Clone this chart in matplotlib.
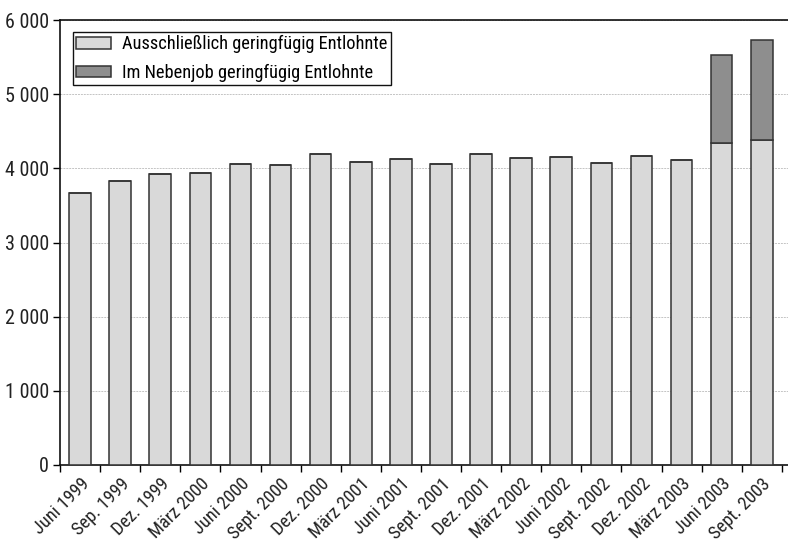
import matplotlib

matplotlib.use("Agg")
import matplotlib.pyplot as plt
import numpy as np

categories = [
    "Juni 1999", "Sep. 1999", "Dez. 1999", "März 2000", "Juni 2000", "Sept. 2000",
    "Dez. 2000", "März 2001", "Juni 2001", "Sept. 2001", "Dez. 2001", "März 2002",
    "Juni 2002", "Sept. 2002", "Dez. 2002", "März 2003", "Juni 2003", "Sept. 2003",
]
ausschliesslich = [
    3670, 3832, 3926, 3943, 4055, 4050, 4199, 4082, 4122,
    4065, 4195, 4136, 4159, 4074, 4172, 4114, 4337, 4377,
]
nebenjob = [0, 0, 0, 0, 0, 0, 0, 0, 0, 0, 0, 0, 0, 0, 0, 0, 1185, 1347]
yticks = [0, 1000, 2000, 3000, 4000, 5000, 6000]

plt.rcParams["font.family"] = ["Roboto Condensed", "Roboto", "DejaVu Sans"]

fig = plt.figure(figsize=(7.88, 5.45), dpi=100)
ax = fig.add_axes([60 / 788, 1 - 465 / 545, 728 / 788, 445 / 545])

x = np.arange(len(categories))
width = 0.54
ax.bar(x, ausschliesslich, width=width, color="#d9d9d9", edgecolor="#333333",
       linewidth=1.1, label="Ausschließlich geringfügig Entlohnte", zorder=3)
ax.bar(x, nebenjob, width=width, bottom=ausschliesslich, color="#8e8e8e",
       edgecolor="#333333", linewidth=1.1, label="Im Nebenjob geringfügig Entlohnte", zorder=3)

ax.set_xlim(-0.5, 17.5 + 6.2 / 40.1)
ax.set_ylim(0, 6000)

ax.set_yticks(yticks)
ax.set_yticklabels([f"{v // 1000} 000" if v else "0" for v in yticks], fontsize=14.5, color="#222222")
ax.tick_params(axis="y", length=5, width=1, direction="out", pad=3)
ax.yaxis.grid(True, color="#c4c4c4", linestyle=(0, (2, 1)), linewidth=0.7, zorder=0)

ax.set_xticks(x)
ax.set_xticklabels(categories, rotation=45, ha="right", rotation_mode="anchor",
                   fontsize=13.2, color="#222222")
ax.tick_params(axis="x", which="major", length=0, pad=7)
ax.set_xticks(np.arange(-0.5, 18, 1.0), minor=True)
ax.tick_params(axis="x", which="minor", length=5, width=1, direction="out")

ax.spines["right"].set_visible(False)
for side in ["left", "bottom", "top"]:
    ax.spines[side].set_color("#111111")
    ax.spines[side].set_linewidth(1.2)

leg = ax.legend(loc="upper left", bbox_to_anchor=(0.018, 0.973), borderaxespad=0,
                fontsize=13.2, fancybox=False, framealpha=1, edgecolor="#111111",
                handlelength=1.9, handleheight=0.6, handletextpad=0.6,
                borderpad=0.18, labelspacing=0.57)
leg.get_frame().set_linewidth(1.0)

fig.savefig("out.png", dpi=100)
